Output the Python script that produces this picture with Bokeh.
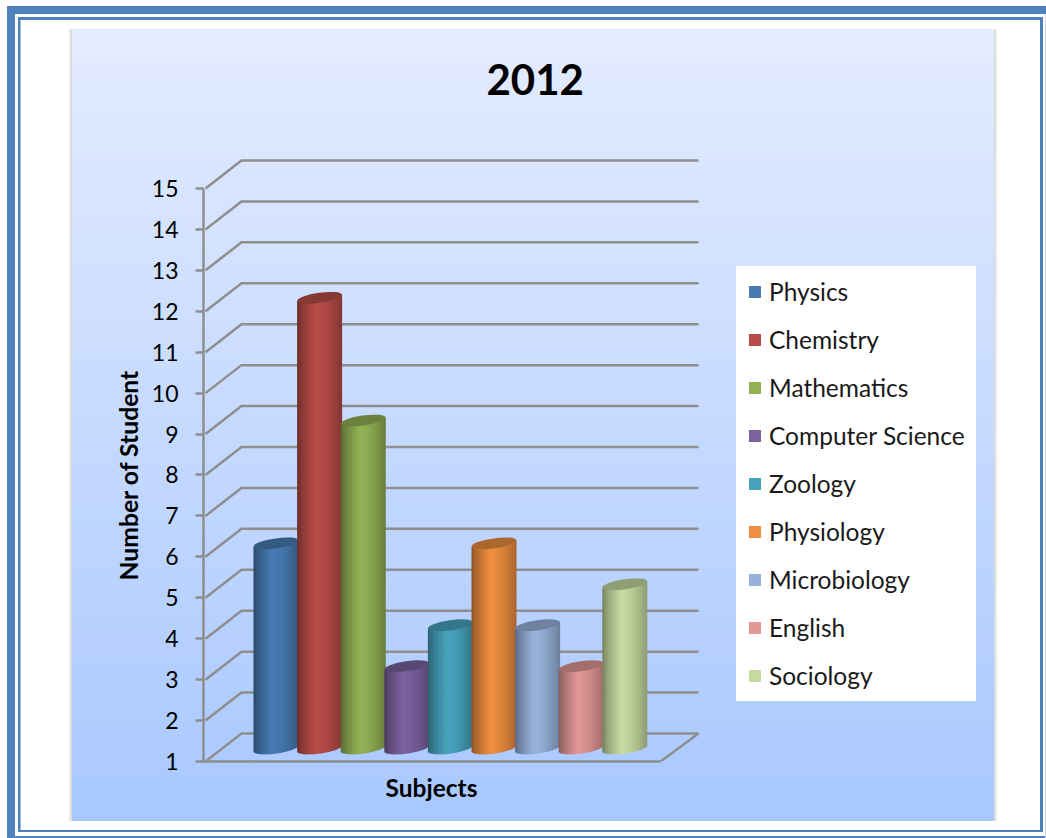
import math
from bokeh.plotting import figure
from bokeh.models import (ColumnDataSource, FixedTicker, Legend, LegendItem,
                          LinearAxis, Range1d, Title)
from bokeh.embed import file_html
from bokeh.resources import INLINE

subjects = ["Physics", "Chemistry", "Mathematics", "Computer Science", "Zoology",
            "Physiology", "Microbiology", "English", "Sociology"]
students = [6, 12, 9, 3, 4, 6, 4, 3, 5]
colors = ["#4679b0", "#b54b47", "#90ae53", "#7a5f9c", "#46a0ba",
          "#e98b3e", "#95aed6", "#dd9493", "#c2d69d"]
y_ticks = list(range(1, 16))
title_text = "2012"
x_title = "Subjects"
y_title = "Number of Student"

FONT = "Lato"
GRID = "#8e8e8e"
W, H = 1046, 838
PX_X, PX_Y = 43.6, 40.93          # pixels per category / per student
F_L, F_R, F_T, F_B = 203, 990, 110, 761   # plot frame in page pixels
X0 = 275.5                        # page x of first bar

xr = Range1d((F_L - X0) / PX_X, (F_R - X0) / PX_X)
yr = Range1d(1, 1 + (F_B - F_T) / PX_Y)


def layer(l, r, t, b, css):
    return (f"{css} {l}px {t}px / {r - l}px {b - t}px no-repeat")


def solid(c):
    return f"linear-gradient({c},{c})"


BLUE = "#4f81bd"
layers = [
    layer(7, 1046, 6, 14, solid(BLUE)),
    layer(7, 15, 6, 838, solid(BLUE)),
    layer(1045, 1046, 6, 838, solid("#c6d6ea")),
    layer(15, 1046, 836, 838, solid(BLUE)),
    layer(18, 1043, 17, 20, solid(BLUE)),
    layer(18, 20, 17, 832, solid(BLUE)),
    layer(20, 21, 20, 830, solid("#9dbad9")),
    layer(1040, 1043, 17, 832, solid(BLUE)),
    layer(18, 1043, 830, 832, solid(BLUE)),
    layer(72, 994, 29, 821, "linear-gradient(#e4ecff,#a8c8ff)"),
    layer(68, 72, 29, 821, "linear-gradient(to right,#ffffff,#d4d4d4)"),
    layer(994, 998, 29, 821, "linear-gradient(to right,#d4d4d4,#ffffff)"),
]

p = figure(width=W, height=H, output_backend="svg", toolbar_location=None,
           x_range=xr, y_range=yr, x_axis_type=None, y_axis_type=None,
           min_border_left=F_L, min_border_right=W - F_R,
           min_border_top=F_T, min_border_bottom=H - F_B,
           background_fill_color=None, border_fill_color=None, outline_line_color=None,
           styles={"background": ",".join(layers)})
p.grid.visible = False

# 3D walls
dx, dy = 36 / PX_X, 28 / PX_Y
x_left = xr.start + 2 / PX_X
x_back_r = (698 - X0) / PX_X
x_front_r = (660 - X0) / PX_X
xs, ys = [], []
for v in y_ticks:
    xs.append([x_left, x_left + dx, x_back_r])
    ys.append([v, v + dy, v + dy])
xs.append([x_front_r, x_back_r])
ys.append([1, 1 + dy])
p.multi_line(xs, ys, line_color=GRID, line_width=2.5)

# cylinders
BAR_W = 45 / PX_X
TILT = 3.2 / PX_Y
MINOR = 5.5 / PX_Y
LIFT = 13.5 / PX_Y
N = 36


def shade(t):
    # t 0..1 across the cylinder
    if t < 0.42:
        return 0.58 + 0.44 * (t / 0.42) ** 0.7
    return 1.02 - 0.30 * ((t - 0.42) / 0.58) ** 1.6


def tone(hex_color, s):
    r, g, b = [int(hex_color[i:i + 2], 16) for i in (1, 3, 5)]
    return "#%02x%02x%02x" % tuple(min(255, round(c * s)) for c in (r, g, b))


items = []
for i, (name, val, col) in enumerate(zip(subjects, students, colors)):
    L, R, T, B, C = [], [], [], [], []
    base = 1 + LIFT
    top = val + LIFT
    for k in range(N):
        a = i - BAR_W / 2 + BAR_W * k / N
        b = i - BAR_W / 2 + BAR_W * (k + 1) / N
        tm = -1 + 2 * (k + 0.5) / N
        L.append(a)
        R.append(b + (BAR_W / N * 0.6 if k < N - 1 else 0))
        T.append(top + TILT * tm)
        B.append(base + TILT * tm - MINOR * math.sqrt(1 - tm * tm))
        C.append(tone(col, shade((k + 0.5) / N)))
    src = ColumnDataSource(dict(left=L, right=R, top=T, bottom=B, color=C))
    r = p.quad(left="left", right="right", top="top", bottom="bottom", fill_color="color",
               line_color=None, source=src)
    p.ellipse(x=[i], y=[top], width=[45], height=[2 * 5.0], width_units="screen",
              height_units="screen", angle=math.atan(3.2 / 22.5),
              fill_color=tone(col, 0.74), line_color=None)
    items.append(LegendItem(label=name, renderers=[r], index=int(N * 0.42)))

# axes
ya = LinearAxis(ticker=FixedTicker(ticks=y_ticks), bounds=(1, 15),
                axis_line_color=GRID, axis_line_width=2.5, major_tick_line_color=GRID,
                major_tick_line_width=2.5, major_tick_in=0, major_tick_out=8,
                minor_tick_line_color=None, major_label_text_font=FONT,
                major_label_text_font_size="23px", major_label_text_color="black",
                major_label_standoff=17)
p.add_layout(ya, "left")
xa = LinearAxis(ticker=FixedTicker(ticks=[]), bounds=(xr.start, x_front_r),
                axis_line_color=GRID, axis_line_width=2.5, major_tick_line_color=None,
                minor_tick_line_color=None, major_label_text_font_size="0px")
p.add_layout(xa, "below")

# axis titles sit off the frame's centre, so they are side titles with an offset
p.add_layout(Title(text=y_title, align="left", offset=F_B - 580, text_font=FONT,
                   text_font_style="bold", text_font_size="24.7px", text_color="black",
                   standoff=12), "left")
p.add_layout(Title(text=x_title, align="left", offset=385 - F_L, text_font=FONT,
                   text_font_style="bold", text_font_size="24.5px", text_color="black",
                   standoff=19), "below")

p.add_layout(Title(text=title_text, align="left", offset=486 - F_L, text_font=FONT,
                   text_font_style="bold", text_font_size="42px", text_color="black",
                   standoff=31), "above")

legend = Legend(items=items, location=(736 - F_L, F_B - 701), orientation="vertical",
                background_fill_color="white", background_fill_alpha=1,
                border_line_color="white", border_line_width=1,
                label_text_font=FONT, label_text_font_size="24.5px", label_text_color="#1a1a1a",
                glyph_width=15, glyph_height=15, label_standoff=7, padding=10, margin=0,
                spacing=19, label_height=26, click_policy="none")
p.add_layout(legend, "center")

open("out.html", "w").write(file_html(p, INLINE))
